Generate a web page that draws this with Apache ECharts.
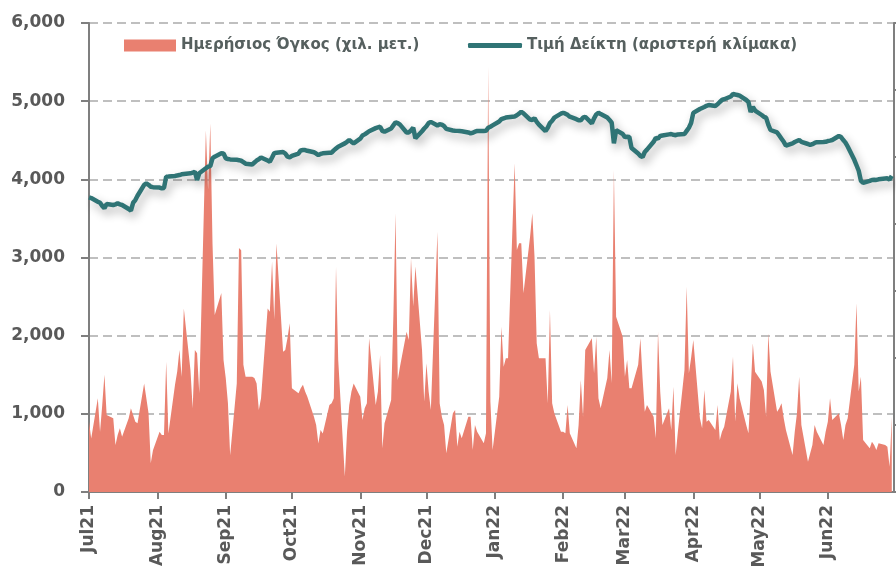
<!DOCTYPE html>
<html>
<head>
<meta charset="utf-8">
<script src="https://cdn.jsdelivr.net/npm/echarts@6/dist/echarts.min.js"></script>
<style>
  html, body { margin: 0; padding: 0; background: #fff; }
  #chart { width: 896px; height: 569px; }
</style>
</head>
<body>
<div id="chart"></div>
<script>
// month tick labels
const monthLabels = ['Jul21', 'Aug21', 'Sep21', 'Oct21', 'Nov21', 'Dec21',
  'Jan22', 'Feb22', 'Mar22', 'Apr22', 'May22', 'Jun22'];

// daily volume (thousand shares), one row per month, weekdays only
const volume = [
  1050, 800, 1400, 900, 1300, 1750, 1150, 1100, 700, 850, 950, 825, 1100, 1250, 1150, 1050, 1025, 1620, 1400, 1175, 430, 625,
  900, 850, 850, 1945, 875, 1600, 1800, 2120, 1720, 2740, 1820, 1250, 2120, 2070, 1475, 5400, 4510, 5500, 3710, 2640, 2970, 1970,
  1700, 1325, 550, 1620, 3640, 3610, 1900, 1720, 1720, 1700, 1620, 1225, 1400, 2740, 2690, 3440, 2570, 3710, 2095, 2120, 2300, 2520,
  1550, 1475, 1550, 1600, 1500, 1420, 1125, 1000, 725, 925, 875, 1300, 1325, 1400, 3360, 1970, 230, 900, 1300, 1500, 1620,
  1423, 1075, 1250, 1324, 2295, 1300, 1500, 2045, 652, 1026, 1374, 2617, 4161, 1672, 1871, 2393, 2269, 3489, 2767, 3364, 2120, 1348,
  1921, 1500, 1224, 3886, 1324, 1124, 1000, 578, 1175, 1224, 676, 900, 802, 1124, 1124, 627, 1000, 900, 727, 876, 6350, 1348, 627,
  1423, 2468, 1871, 1996, 1996, 4907, 3613, 3713, 3713, 2967, 3812, 4161, 3513, 2220, 1996, 1996, 1324, 2717, 1324, 1175, 900,
  900, 876, 1299, 876, 652, 1000, 1672, 1124, 2120, 2295, 1772, 2319, 1400, 1250, 1700, 2120, 1623, 4807, 2617, 2319,
  1721, 1971, 1548, 1548, 1900, 2295, 1700, 1199, 1299, 1124, 802, 2393, 1500, 1000, 1250, 926, 1572, 552, 900, 1821, 3065, 1772, 2000,
  2269, 1100, 951, 1523, 1050, 1075, 926, 1299, 776, 900, 975, 1500, 2020, 1050, 1623, 1400, 1000, 876, 1500, 2220, 1796,
  1650, 1523, 1124, 2369, 1800, 1199, 1250, 1324, 1100, 926, 552, 900, 1175, 1721, 1000, 452, 578, 700, 1000, 900, 702, 900,
  1050, 1399, 1075, 1175, 1000, 776, 1000, 1100, 1900, 2817, 1500, 1721, 776, 652, 751, 700, 627, 727, 700, 676, 378, 1124
];

// index level (left scale)
const indexLevel = [
  3770, 3760, 3714, 3700, 3660, 3629, 3684, 3672, 3680, 3693, 3680, 3672, 3620, 3599, 3700, 3735, 3790, 3930, 3949, 3930, 3906, 3900,
  3895, 3885, 3890, 4034, 4035, 4043, 4050, 4055, 4064, 4068, 4077, 4085, 4098, 3992, 4077, 4141, 4162, 4170, 4269, 4290, 4333, 4330,
  4269, 4260, 4255, 4250, 4245, 4238, 4220, 4200, 4190, 4215, 4240, 4256, 4280, 4240, 4226, 4280, 4335, 4341, 4350, 4330, 4290, 4282,
  4300, 4330, 4370, 4375, 4375, 4365, 4346, 4330, 4311, 4325, 4333, 4341, 4341, 4370, 4395, 4418, 4460, 4480, 4503, 4480, 4461,
  4520, 4560, 4575, 4595, 4615, 4655, 4665, 4673, 4620, 4609, 4650, 4690, 4730, 4720, 4700, 4600, 4600, 4625, 4660, 4525, 4615, 4650,
  4680, 4720, 4735, 4690, 4705, 4700, 4680, 4645, 4625, 4622, 4620, 4618, 4615, 4600, 4589, 4595, 4610, 4618, 4618, 4620, 4660, 4673, 4690,
  4740, 4770, 4781, 4790, 4795, 4805, 4820, 4840, 4865, 4845, 4765, 4760, 4781, 4735, 4700, 4618, 4660, 4720, 4750, 4790, 4840,
  4852, 4840, 4825, 4801, 4770, 4755, 4755, 4790, 4801, 4715, 4780, 4830, 4852, 4835, 4790, 4760, 4724, 4461, 4630, 4580,
  4540, 4545, 4541, 4400, 4330, 4300, 4286, 4350, 4380, 4480, 4530, 4520, 4555, 4560, 4575, 4580, 4570, 4565, 4575, 4580, 4620, 4660, 4721,
  4850, 4900, 4913, 4925, 4940, 4951, 4939, 4960, 4990, 5015, 5025, 5060, 5092, 5085, 5079, 5070, 5015, 4990, 4861, 4925, 4880,
  4823, 4800, 4790, 4700, 4631, 4600, 4560, 4520, 4480, 4430, 4460, 4477, 4490, 4503, 4480, 4452, 4440, 4450, 4465, 4475, 4477, 4480,
  4490, 4495, 4503, 4554, 4540, 4503, 4470, 4420, 4250, 4180, 4110, 3980, 3955, 3980, 3992, 3995, 3992, 4000, 4010, 4013, 3995, 4043
];

const volName = 'Ημερήσιος Όγκος (χιλ. μετ.)';
const idxName = 'Τιμή Δείκτη (αριστερή κλίμακα)';

// x = days since 1 Jul 2021; trading days are the weekdays up to 30 Jun 2022
const DAY = 86400000;
const start = Date.UTC(2021, 6, 1);
const end = Date.UTC(2022, 6, 1);
const tradeDays = [];
for (let t = start; t < end; t += DAY) {
  const w = new Date(t).getUTCDay();
  if (w !== 0 && w !== 6) tradeDays.push((t - start) / DAY);
}
const monthStarts = monthLabels.map((m, i) => (Date.UTC(2021, 6 + i, 1) - start) / DAY);
const totalDays = (end - start) / DAY;

const axisGray = '#7f7f7f';
const labelGray = '#595959';
const font = 'DejaVu Sans';

const chart = echarts.init(document.getElementById('chart'));
chart.setOption({
  animation: false,
  textStyle: { fontFamily: font },
  grid: { left: 89, right: 2, top: 23, bottom: 77, containLabel: false, outerBoundsMode: 'none' },
  legend: [
    {
      left: 119, top: 33, itemWidth: 52, itemHeight: 12,
      data: [{ name: volName, icon: 'rect' }],
      textStyle: { fontFamily: font, fontSize: 15, fontWeight: 'bold', color: '#56605f' }
    },
    {
      left: 463, top: 33, itemWidth: 54, itemHeight: 5,
      data: [{ name: idxName, icon: 'roundRect' }],
      textStyle: { fontFamily: font, fontSize: 15, fontWeight: 'bold', color: '#56605f' }
    }
  ],
  xAxis: {
    type: 'value',
    min: 0,
    max: totalDays,
    axisLine: { lineStyle: { color: axisGray, width: 2 } },
    axisTick: { show: true, length: 7, customValues: monthStarts, lineStyle: { color: axisGray, width: 2 } },
    axisLabel: {
      rotate: 90, margin: 13, fontSize: 17, fontWeight: 'bold', color: labelGray, fontFamily: font,
      customValues: monthStarts,
      formatter: function (v) {
        const i = monthStarts.indexOf(v);
        return i >= 0 ? monthLabels[i] : '';
      }
    },
    splitLine: { show: false }
  },
  yAxis: [
    {
      type: 'value', min: 0, max: 6000, interval: 1000,
      axisLine: { show: true, lineStyle: { color: axisGray, width: 2 } },
      axisTick: { show: true, length: 8, lineStyle: { color: axisGray, width: 2 } },
      axisLabel: {
        margin: 24, fontSize: 17, fontWeight: 'bold', color: labelGray, fontFamily: font,
        formatter: v => v.toLocaleString('en-US')
      },
      splitLine: { show: true, lineStyle: { color: '#bfbfbf', width: 2, type: [9, 5] } }
    },
    {
      type: 'value', min: 0, max: 7000, interval: 1000, position: 'right',
      axisLine: { show: true, lineStyle: { color: axisGray, width: 2 } },
      axisTick: { show: true, length: 8, lineStyle: { color: axisGray, width: 2 } },
      axisLabel: { show: false },
      splitLine: { show: false }
    }
  ],
  series: [
    {
      name: volName,
      type: 'line',
      yAxisIndex: 1,
      data: tradeDays.map((d, i) => [d, volume[i]]),
      showSymbol: false,
      symbol: 'none',
      color: '#e98070',
      lineStyle: { width: 0 },
      areaStyle: { color: '#e98070', opacity: 1 },
      z: 1
    },
    {
      name: idxName,
      type: 'line',
      yAxisIndex: 0,
      data: tradeDays.map((d, i) => [d, indexLevel[i]]),
      showSymbol: false,
      symbol: 'none',
      color: '#2f7475',
      lineStyle: {
        width: 4.5, color: '#2f7475',
        shadowColor: 'rgba(0,0,0,0.3)', shadowBlur: 10, shadowOffsetX: 3, shadowOffsetY: 5
      },
      z: 3
    }
  ]
});
</script>
</body>
</html>
